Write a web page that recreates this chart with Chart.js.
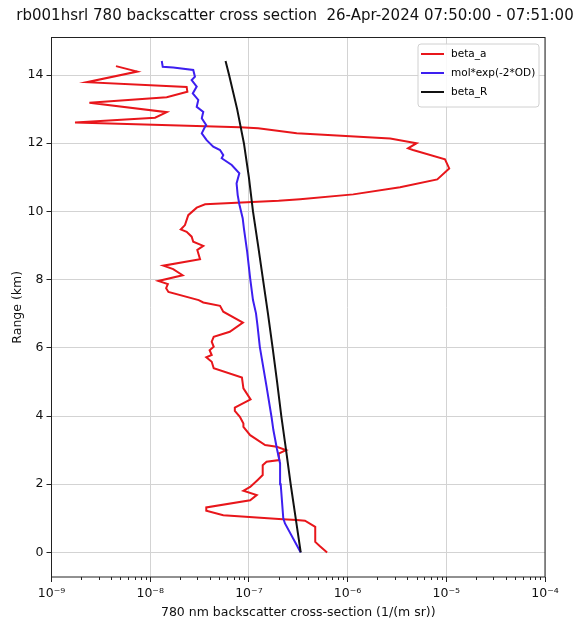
<!DOCTYPE html>
<html>
<head>
<meta charset="utf-8">
<script src="https://cdn.jsdelivr.net/npm/chart.js@4.4.1/dist/chart.umd.min.js"></script>
<style>
  body { margin: 0; background: #fff; }
</style>
</head>
<body>
<canvas id="chart" width="576" height="622"></canvas>
<script>
// values, bottom to top

// beta_a
const redKm = [0.0, 0.18, 0.31, 0.75, 0.93, 0.95, 0.97, 1.09, 1.22, 1.32, 1.53, 1.68, 1.81, 1.92, 2.12, 2.27, 2.56, 2.66, 2.71, 2.90,
  3.00, 3.10, 3.15, 3.44, 3.68, 3.78, 3.98, 4.15, 4.25, 4.49, 4.81, 5.13, 5.40, 5.59, 5.72, 5.79, 5.93, 6.03, 6.18, 6.32,
  6.47, 6.74, 7.06, 7.23, 7.33, 7.40, 7.64, 7.75, 7.87, 7.96, 8.13, 8.31, 8.41, 8.60, 8.87, 8.99, 9.11, 9.26, 9.40, 9.47,
  9.60, 9.89, 10.11, 10.21, 10.31, 10.36, 10.50, 10.71, 10.94, 11.26, 11.53, 11.80, 11.85, 12.00, 12.14, 12.29, 12.44, 12.47, 12.61, 12.75,
  12.91, 13.19, 13.35, 13.51, 13.65, 13.79, 14.10, 14.26];
const redBeta = [6.2e-7, 5.25e-7, 4.7e-7, 4.7e-7, 3.7e-7, 3.05e-7, 2.2e-7, 5.5e-8, 3.7e-8, 3.7e-8, 1.03e-7, 1.2e-7, 8.8e-8, 1.03e-7, 1.22e-7, 1.38e-7, 1.38e-7, 1.51e-7, 2.03e-7, 2.0e-7,
  2.38e-7, 1.91e-7, 1.46e-7, 1.03e-7, 8.8e-8, 8.8e-8, 8.1e-8, 7.2e-8, 7.2e-8, 1.04e-7, 8.8e-8, 8.5e-8, 4.4e-8, 4.2e-8, 3.7e-8, 4.2e-8, 4.0e-8, 4.4e-8, 4.2e-8, 4.4e-8,
  6.4e-8, 8.7e-8, 5.5e-8, 5.1e-8, 3.45e-8, 3.1e-8, 1.53e-8, 1.45e-8, 1.51e-8, 1.21e-8, 2.13e-8, 1.71e-8, 1.36e-8, 3.2e-8, 3.0e-8, 3.45e-8, 2.73e-8, 2.63e-8, 2.34e-8, 2.04e-8,
  2.25e-8, 2.43e-8, 2.96e-8, 3.6e-8, 2.0e-7, 3.3e-7, 1.14e-6, 3.4e-6, 8.1e-6, 1.07e-5, 9.7e-6, 4.6e-6, 4.1e-6, 5.0e-6, 2.7e-6, 3.05e-7, 1.24e-7, 8.1e-8, 1.73e-9, 1.12e-8,
  1.47e-8, 2.42e-9, 1.47e-8, 2.38e-8, 2.34e-8, 2.28e-9, 7.4e-9, 4.5e-9];

// mol*exp(-2*OD)
const blueKm = [0.0, 0.85, 1.0, 2.0, 2.61, 3.05, 3.59, 3.95, 4.86, 6.03, 6.67, 7.01, 7.40, 8.04, 8.82, 9.50, 9.80, 10.21, 10.48, 10.82,
  11.12, 11.36, 11.56, 11.65, 11.80, 11.90, 12.09, 12.29, 12.48, 12.53, 12.73, 12.92, 13.07, 13.27, 13.46, 13.66, 13.85, 13.95, 14.15, 14.22,
  14.24, 14.41];
const blueBeta = [3.35e-7, 2.32e-7, 2.23e-7, 2.1e-7, 2.07e-7, 1.92e-7, 1.77e-7, 1.7e-7, 1.51e-7, 1.29e-7, 1.22e-7, 1.18e-7, 1.1e-7, 1.03e-7, 9.6e-8, 8.9e-8, 8.65e-8, 8.0e-8, 7.7e-8, 7.5e-8,
  8.0e-8, 6.7e-8, 5.3e-8, 5.5e-8, 5.1e-8, 4.35e-8, 3.73e-8, 3.33e-8, 3.59e-8, 3.7e-8, 3.33e-8, 3.45e-8, 2.96e-8, 3.07e-8, 2.7e-8, 2.96e-8, 2.63e-8, 2.84e-8, 2.73e-8, 1.71e-8,
  1.34e-8, 1.31e-8];

// beta_R
const blackKm = [0, 1, 2, 3, 4, 5, 6, 7, 8, 9, 10, 11, 12, 13, 14, 14.41];
const blackBeta = [3.35e-7, 2.98e-7, 2.65e-7, 2.38e-7, 2.13e-7, 1.93e-7, 1.74e-7, 1.56e-7, 1.39e-7, 1.24e-7, 1.1e-7, 1.0e-7, 8.9e-8, 7.6e-8, 6.3e-8, 5.8e-8];

const seriesNames = ['beta_a', 'mol*exp(-2*OD)', 'beta_R'];
const seriesColors = ['#e8161b', '#3d1ff0', '#111111'];

const xDecades = [1e-9, 1e-8, 1e-7, 1e-6, 1e-5, 1e-4];
const xTickLabels = ['10\u207B\u2079', '10\u207B\u2078', '10\u207B\u2077', '10\u207B\u2076', '10\u207B\u2075', '10\u207B\u2074'];
const yTicks = [0, 2, 4, 6, 8, 10, 12, 14];

const FONT = 'DejaVu Sans';

function pts(km, beta) {
  return km.map((y, i) => ({ x: beta[i], y: y }));
}

// frame round the axes + short minor ticks under the x axis
const frame = {
  id: 'frame',
  afterDraw(chart) {
    const { ctx, chartArea: a } = chart;
    const xs = chart.scales.x;
    ctx.save();
    ctx.strokeStyle = '#222';
    ctx.lineWidth = 1;
    ctx.strokeRect(a.left, a.top, a.right - a.left, a.bottom - a.top);
    ctx.beginPath();
    xs.ticks.forEach(t => {
      if (t.major) return;
      const px = Math.round(xs.getPixelForValue(t.value)) + 0.5;
      ctx.moveTo(px, a.bottom);
      ctx.lineTo(px, a.bottom + 3);
    });
    ctx.stroke();
    ctx.restore();
  }
};

// matplotlib style legend in the upper right corner
const boxLegend = {
  id: 'boxLegend',
  afterDraw(chart) {
    const { ctx, chartArea: a } = chart;
    const w = 121, h = 63;
    const x0 = a.right - 6 - w, y0 = a.top + 6.5;
    ctx.save();
    ctx.beginPath();
    ctx.roundRect(x0, y0, w, h, 3);
    ctx.fillStyle = 'rgba(255,255,255,0.85)';
    ctx.fill();
    ctx.strokeStyle = '#d0d0d0';
    ctx.lineWidth = 1;
    ctx.stroke();
    ctx.font = '10.5px "' + FONT + '"';
    ctx.textBaseline = 'middle';
    chart.data.datasets.forEach((ds, i) => {
      const yy = y0 + 10 + i * 19;
      ctx.strokeStyle = ds.borderColor;
      ctx.lineWidth = 2;
      ctx.beginPath();
      ctx.moveTo(x0 + 3, yy);
      ctx.lineTo(x0 + 26, yy);
      ctx.stroke();
      ctx.fillStyle = '#000';
      ctx.fillText(ds.label, x0 + 33, yy);
    });
    ctx.restore();
  }
};

const datasets = [
  { label: seriesNames[0], data: pts(redKm, redBeta), borderColor: seriesColors[0], order: 3 },
  { label: seriesNames[1], data: pts(blueKm, blueBeta), borderColor: seriesColors[1], order: 2 },
  { label: seriesNames[2], data: pts(blackKm, blackBeta), borderColor: seriesColors[2], order: 1 }
].map(d => Object.assign(d, { showLine: true, pointRadius: 0, borderWidth: 2, tension: 0, fill: false }));

const chart = new Chart(document.getElementById('chart'), {
  type: 'scatter',
  data: { datasets: datasets },
  options: {
    responsive: false,
    animation: false,
    devicePixelRatio: 1,
    layout: { padding: { left: 14, right: 0, top: 0, bottom: 0 } },
    plugins: {
      legend: { display: false },
      tooltip: { enabled: false },
      title: {
        display: true,
        text: 'rb001hsrl 780 backscatter cross section  26-Apr-2024 07:50:00 - 07:51:00',
        color: '#111',
        font: { family: FONT, size: 15, weight: 'normal', lineHeight: 1.2 },
        padding: { top: 7.5, bottom: 12 }
      }
    },
    scales: {
      x: {
        type: 'logarithmic',
        min: 1e-9,
        max: 1e-4,
        afterBuildTicks: s => {
          const t = [];
          xDecades.forEach((d, i) => {
            t.push({ value: d, major: true });
            if (i < xDecades.length - 1) {
              for (let m = 2; m <= 9; m++) t.push({ value: m * d, major: false });
            }
          });
          s.ticks = t;
        },
        afterFit: s => { s.height = 45; },
        border: { display: false },
        grid: {
          color: c => (c.tick && c.tick.major ? '#d3d3d3' : 'rgba(0,0,0,0)'),
          tickColor: c => (c.tick && c.tick.major ? '#222' : 'rgba(0,0,0,0)'),
          tickLength: 5,
          lineWidth: 1
        },
        ticks: {
          autoSkip: false,
          maxRotation: 0,
          minRotation: 0,
          padding: 4,
          color: '#111',
          font: { family: FONT, size: 12.5 },
          callback: v => {
            const i = xDecades.findIndex(d => Math.abs(d - v) / d < 1e-6);
            return i >= 0 ? xTickLabels[i] : '';
          }
        },
        title: {
          display: true,
          text: '780 nm backscatter cross-section (1/(m sr))',
          color: '#111',
          font: { family: FONT, size: 12.5 },
          padding: { top: 0, bottom: 2 }
        }
      },
      y: {
        type: 'linear',
        min: -0.72,
        max: 15.1,
        afterBuildTicks: s => { s.ticks = yTicks.map(v => ({ value: v })); },
        afterFit: s => { s.width = 37.5; },
        border: { display: false },
        grid: { color: '#d3d3d3', tickColor: '#222', tickLength: 5, lineWidth: 1 },
        ticks: {
          padding: 3,
          color: '#111',
          font: { family: FONT, size: 12.5 },
          callback: v => String(v)
        },
        title: {
          display: true,
          text: 'Range (km)',
          color: '#111',
          font: { family: FONT, size: 12.5 },
          padding: { top: -4, bottom: 0 }
        }
      },
      // empty right-hand box, keeps the plot clear of the canvas edge
      yRight: {
        position: 'right',
        afterFit: s => { s.width = 31; },
        border: { display: false },
        grid: { display: false },
        ticks: { display: false }
      }
    }
  },
  plugins: [frame, boxLegend]
});
</script>
</body>
</html>
